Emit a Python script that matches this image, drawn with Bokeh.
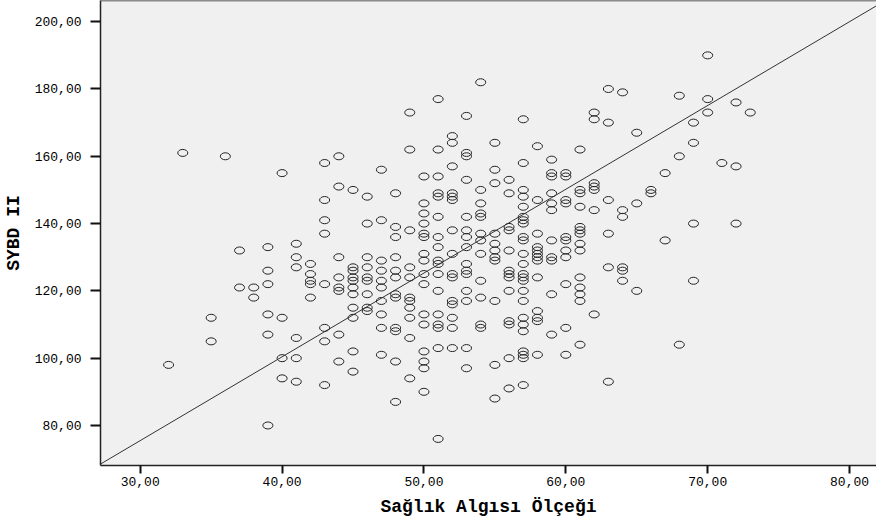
from bokeh.plotting import figure
from bokeh.models import ColumnDataSource, Range1d, FixedTicker, Slope, Span
from bokeh.embed import file_html
from bokeh.resources import INLINE

# ---- data: Sağlık Algısı Ölçeği (x) vs SYBD II (y), grouped by x value ----
x_values = [32, 33, 35, 36, 37, 38, 39, 40, 41, 42, 43, 44, 45, 46, 47, 48, 49, 50,
            51, 52, 53, 54, 55, 56, 57, 58, 59, 60, 61, 62, 63, 64, 65, 66, 67, 68,
            69, 70, 71, 72, 73]
y_groups = [
    [98],
    [161],
    [112, 105],
    [160],
    [132, 121],
    [121, 118],
    [133, 126, 122, 113, 107, 80],
    [155, 112, 100, 94],
    [134, 130, 127, 106, 100, 93],
    [128, 125, 123, 122, 118],
    [158, 147, 141, 137, 122, 109, 105, 92],
    [160, 151, 130, 124, 121, 120, 107, 99],
    [150, 127, 126, 124, 123, 121, 119, 115, 112, 102, 96],
    [148, 140, 130, 127, 124, 123, 119, 115, 114],
    [156, 141, 129, 126, 123, 121, 117, 113, 109, 101],
    [149, 139, 136, 130, 126, 124, 119, 118, 109, 108, 99, 87],
    [173, 162, 138, 127, 124, 118, 117, 115, 112, 106, 94],
    [154, 146, 143, 140, 137, 136, 131, 129, 125, 122, 113, 110, 102, 99, 97, 90],
    [177, 162, 154, 149, 148, 142, 136, 133, 129, 128, 125, 120, 113, 110, 109, 103, 76],
    [166, 164, 157, 149, 148, 147, 138, 131, 125, 124, 117, 116, 112, 109, 103],
    [172, 161, 160, 153, 142, 138, 136, 133, 128, 126, 125, 120, 117, 103, 97],
    [182, 150, 146, 143, 142, 137, 135, 131, 123, 118, 110, 109],
    [164, 156, 152, 137, 134, 132, 130, 129, 117, 98, 88],
    [153, 149, 139, 138, 132, 126, 125, 124, 120, 111, 110, 100, 91],
    [171, 158, 150, 148, 145, 142, 141, 140, 136, 135, 131, 128, 125, 124, 123, 120,
     117, 112, 110, 108, 102, 101, 100, 92],
    [163, 147, 137, 133, 132, 131, 130, 129, 124, 114, 112, 111, 101],
    [159, 155, 154, 149, 146, 144, 135, 130, 129, 119, 107],
    [155, 154, 147, 146, 136, 135, 132, 130, 122, 109, 101],
    [162, 150, 149, 145, 139, 138, 137, 134, 132, 124, 121, 119, 117, 104],
    [173, 171, 152, 151, 150, 144, 113],
    [180, 170, 147, 137, 127, 93],
    [179, 144, 142, 127, 126, 123],
    [167, 146, 120],
    [150, 149],
    [155, 135],
    [178, 160, 104],
    [170, 164, 140, 123],
    [190, 177, 173],
    [158],
    [176, 157, 140],
    [173],
]

x_ticks = [30, 40, 50, 60, 70, 80]
x_tick_labels = ["30,00", "40,00", "50,00", "60,00", "70,00", "80,00"]
y_ticks = [80, 100, 120, 140, 160, 180, 200]
y_tick_labels = ["80,00", "100,00", "120,00", "140,00", "160,00", "180,00", "200,00"]

x_label = "Sağlık Algısı Ölçeği"
y_label = "SYBD II"

# reference line
line_gradient = 2.49
line_intercept = 0.8

x_lo, x_hi = 27.2, 81.9
y_lo, y_hi = 68.1, 206.3

xs, ys = [], []
for xv, group in zip(x_values, y_groups):
    for yv in group:
        xs.append(xv)
        ys.append(yv)
source = ColumnDataSource(data=dict(x=xs, y=ys))

p = figure(width=876, height=519, output_backend="svg", toolbar_location=None,
           x_range=Range1d(x_lo, x_hi), y_range=Range1d(y_lo, y_hi),
           min_border_left=99, min_border_right=0, min_border_top=0,
           min_border_bottom=52)

p.background_fill_color = "#F0F0F0"
p.border_fill_color = "white"
p.outline_line_color = None
p.grid.visible = False

p.ellipse(x="x", y="y", width=10, height=7, width_units="screen",
          height_units="screen", source=source, fill_color=None,
          line_color="#222222", line_width=1)

p.add_layout(Slope(gradient=line_gradient, y_intercept=line_intercept,
                   line_color="#333333", line_width=1))
p.add_layout(Span(location=y_hi, dimension="width", line_color="#222222",
                  line_width=1.5))

for ax in (p.xaxis[0], p.yaxis[0]):
    ax.axis_line_color = "#222222"
    ax.axis_line_width = 1.5
    ax.major_tick_line_color = "#111111"
    ax.major_tick_line_width = 2
    ax.major_tick_in = 0
    ax.minor_tick_line_color = None
    ax.major_label_text_font = "Liberation Mono"
    ax.major_label_text_font_size = "13px"
    ax.major_label_text_color = "black"
    ax.axis_label_text_font = "Liberation Mono"
    ax.axis_label_text_font_style = "bold"
    ax.axis_label_text_font_size = "18px"
    ax.axis_label_text_color = "black"

p.xaxis[0].ticker = FixedTicker(ticks=x_ticks)
p.xaxis[0].major_label_overrides = dict(zip(x_ticks, x_tick_labels))
p.xaxis[0].major_tick_out = 8
p.xaxis[0].major_label_standoff = 3
p.xaxis[0].axis_label = x_label
p.xaxis[0].axis_label_standoff = 8

p.yaxis[0].ticker = FixedTicker(ticks=y_ticks)
p.yaxis[0].major_label_overrides = dict(zip(y_ticks, y_tick_labels))
p.yaxis[0].major_tick_out = 10
p.yaxis[0].major_label_standoff = 9
p.yaxis[0].axis_label = y_label
p.yaxis[0].axis_label_standoff = 8

open("out.html", "w").write(file_html(p, INLINE))
